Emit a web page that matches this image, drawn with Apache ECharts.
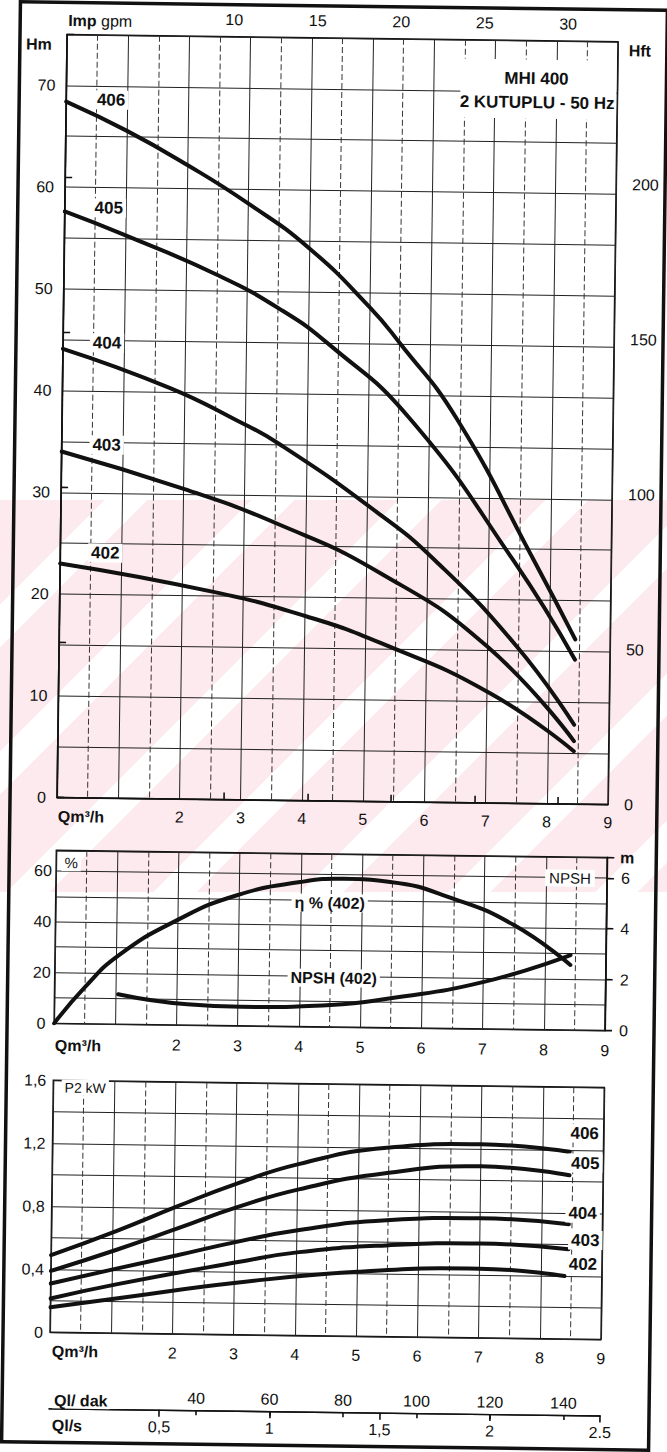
<!DOCTYPE html>
<html>
<head>
<meta charset="utf-8">
<script src="https://cdn.jsdelivr.net/npm/echarts@6/dist/echarts.min.js"></script>
<style>
html,body{margin:0;padding:0;background:#fff;overflow:hidden;width:667px;height:1452px;}
#wm{position:absolute;left:0;top:500px;width:667px;height:392px;
  background:repeating-linear-gradient(135deg,#fdeaee 0px,#fdeaee 74px,#ffffff 74px,#ffffff 104px);}
#wrap{position:absolute;left:0;top:0;width:667px;height:1452px;transform:rotate(0.75deg);transform-origin:333.5px 726px;}
#chart{width:667px;height:1452px;}
</style>
</head>
<body>
<div id="wm"></div>
<div id="wrap"><div id="chart"></div></div>
<script>
// ---------- DATA ----------
// Head curves H (m) vs Q (m3/h)
const head406Q = [0, 1.0, 2.0, 3.0, 4.0, 5.0, 5.5, 6.44, 7.73, 8.43];
const head406H = [68.4, 65.6, 62.3, 58.6, 54.3, 48.6, 45.1, 37.8, 24.0, 16.2];
const head405Q = [0, 1.01, 2.49, 3.53, 4.36, 5.68, 7.4, 8.43];
const head405H = [57.6, 55.3, 51.6, 48.3, 44.8, 37.7, 23.9, 14.2];
const head404Q = [0, 1.75, 2.85, 3.56, 5.15, 6.12, 7.48, 8.43];
const head404H = [44.1, 40.4, 37.3, 35.0, 28.5, 23.8, 15.4, 7.8];
const head403Q = [0, 1.99, 3.53, 5.22, 6.99, 8.43];
const head403H = [34.0, 30.5, 27.2, 22.5, 15.4, 6.2];
const head402Q = [0, 2.51, 4.04, 5.25, 7.05, 8.43];
const head402H = [23.0, 20.4, 18.1, 15.6, 10.8, 5.2];

// Efficiency (%) and NPSH (m) of 402
const effQ = [0, 0.5, 1.04, 1.98, 2.96, 3.99, 4.7, 5.46, 6.49, 7.49, 8.42];
const effV = [0, 14.5, 27.1, 41.1, 51.3, 56.8, 58.3, 57.3, 51.1, 41.0, 25.6];
const npshQ = [1.04, 2.17, 3.05, 4.51, 5.49, 7.01, 8.42];
const npshV = [1.18, 0.82, 0.75, 0.86, 1.16, 1.85, 2.95];

// Power P2 (kW)
const pow406Q = [0, 1.07, 2.05, 3.02, 4.04, 5.46, 7.0, 8.45];
const pow406P = [0.49, 0.65, 0.81, 0.96, 1.09, 1.20, 1.23, 1.19];
const pow405Q = [0, 1.07, 2.06, 3.03, 4.05, 5.47, 7.0, 8.45];
const pow405P = [0.39, 0.53, 0.67, 0.81, 0.93, 1.04, 1.09, 1.04];
const pow404Q = [0, 1.07, 2.06, 3.03, 4.05, 5.47, 7.0, 8.45];
const pow404P = [0.31, 0.41, 0.50, 0.59, 0.67, 0.74, 0.76, 0.73];
const pow403Q = [0, 1.07, 3.03, 4.05, 5.47, 7.0, 8.45];
const pow403P = [0.215, 0.31, 0.46, 0.53, 0.58, 0.60, 0.57];
const pow402Q = [0, 1.07, 3.03, 5.01, 7.0, 8.39];
const pow402P = [0.16, 0.22, 0.33, 0.41, 0.44, 0.40];

// Tick labels
const qLabels = [2, 3, 4, 5, 6, 7, 8, 9];
const headLabels = [0, 10, 20, 30, 40, 50, 60, 70];
const hftLabels = [0, 50, 100, 150, 200];
const gpmLabels = [10, 15, 20, 25, 30];
const effLabels = [0, 20, 40, 60];
const npshLabels = [0, 2, 4, 6];
const powerTickValues = [0, 0.4, 0.8, 1.2, 1.6];
const powerTickLabels = ['0', '0,4', '0,8', '1,2', '1,6'];
const lpmLabels = [40, 60, 80, 100, 120, 140];
const lpsTickValues = [0.5, 1, 1.5, 2, 2.5];
const lpsTickLabels = ['0,5', '1', '1,5', '2', '2.5'];

// Unit conversions (scale ends)
const Q_MAX = 9;
const H_MAX = 75;
const FT_PER_M = 3.28084;
const GPM_PER_M3H = 3.6662;
const LPM_PER_M3H = 16.6667;
const LPS_PER_M3H = 1 / 3.6;

// ---------- CHART ----------
const FONT = "'Liberation Sans', Arial, Helvetica, sans-serif";
const INK = '#111';
const near = (arr, v) => arr.some(t => Math.abs(t - v) < 1e-6);
const pairs = (q, v) => q.map((x, i) => [x, v[i]]);
const lbl = (extra) => Object.assign({ color: INK, fontFamily: FONT, fontSize: 16 }, extra);
const AX = { show: true, lineStyle: { color: INK, width: 1.5 } };
const TK = { color: INK, width: 1.6 };

const qAxis = (grid, margin) => ({
  gridIndex: grid, type: 'value', position: 'bottom', min: 0, max: Q_MAX, interval: 1,
  axisLine: { show: false }, axisTick: { show: false },
  axisLabel: lbl({ margin: margin, formatter: v => near(qLabels, v) ? String(v) : '' }),
  splitLine: { show: true, lineStyle: { color: '#222', width: 1 } },
  minorTick: { show: false, splitNumber: 2 },
  minorSplitLine: { show: true, lineStyle: { color: '#333', width: 1, type: [6, 3] } }
});

const curve = (name, q, v, xi, yi, w) => ({
  name: name, type: 'line', xAxisIndex: xi, yAxisIndex: yi,
  data: pairs(q, v), smooth: 0.5, symbol: 'none', silent: true, z: 3,
  lineStyle: { color: INK, width: w || 4, cap: 'round' }
});

const txt = (text, x, y, o) => ({
  type: 'text', x: x, y: y, z: 20,
  style: Object.assign({
    text: text, fill: INK, fontFamily: FONT, fontSize: 16, fontWeight: 'bold',
    align: 'center', verticalAlign: 'middle'
  }, o || {})
});
const WB = { backgroundColor: '#fff', padding: [1, 3] };

const chart = echarts.init(document.getElementById('chart'), null, { renderer: 'svg', width: 667, height: 1452 });

const option = {
  animation: false,
  backgroundColor: 'transparent',
  grid: [
    { left: 58, top: 38, width: 551, height: 763, show: true, borderColor: INK, borderWidth: 1.5, backgroundColor: 'transparent' },
    { left: 58, top: 854, width: 551, height: 173, show: true, borderColor: INK, borderWidth: 1.5, backgroundColor: 'transparent' },
    { left: 58, top: 1084, width: 551, height: 252, show: true, borderColor: INK, borderWidth: 1.5, backgroundColor: 'transparent' },
    { left: 58, top: 1411, width: 551, height: 1, show: false }
  ],
  xAxis: [
    qAxis(0, 10),
    { gridIndex: 0, type: 'value', position: 'top', min: 0, max: Q_MAX * GPM_PER_M3H, interval: 5,
      axisLine: AX,
      axisTick: { show: true, length: 7, customValues: gpmLabels, lineStyle: TK },
      axisLabel: lbl({ margin: 9, customValues: gpmLabels, formatter: v => near(gpmLabels, v) ? String(v) : '' }),
      splitLine: { show: false } },
    qAxis(1, 12),
    qAxis(2, 11),
    { gridIndex: 3, type: 'value', position: 'top', min: 0, max: Q_MAX * LPM_PER_M3H, interval: 20,
      axisLine: { show: true, lineStyle: { color: INK, width: 1.4 } },
      axisTick: { show: true, inside: true, length: 5, customValues: lpmLabels, lineStyle: TK },
      axisLabel: lbl({ margin: 3, customValues: lpmLabels, formatter: v => near(lpmLabels, v) ? String(v) : '' }),
      splitLine: { show: false } },
    { gridIndex: 3, type: 'value', position: 'bottom', min: 0, max: Q_MAX * LPS_PER_M3H, interval: 0.5,
      axisLine: { show: true, lineStyle: { color: INK, width: 1.4 } },
      axisTick: { show: true, length: 7, customValues: lpsTickValues, lineStyle: TK },
      axisLabel: lbl({ margin: 9, customValues: lpsTickValues, formatter: v => { const i = lpsTickValues.findIndex(t => Math.abs(t - v) < 1e-6); return i >= 0 ? lpsTickLabels[i] : ''; } }),
      splitLine: { show: false } }
  ],
  yAxis: [
    { gridIndex: 0, type: 'value', min: 0, max: H_MAX, interval: 5,
      axisLine: { show: false }, axisTick: { show: false },
      axisLabel: lbl({ margin: 11, formatter: v => near(headLabels, v) ? String(v) : '' }),
      splitLine: { show: true, lineStyle: { color: '#222', width: 1 } } },
    { gridIndex: 0, type: 'value', position: 'right', min: 0, max: H_MAX * FT_PER_M, interval: 50,
      axisLine: AX,
      axisTick: { show: true, length: 7, lineStyle: TK },
      axisLabel: lbl({ margin: 16, formatter: v => near(hftLabels, v) ? String(v) : '' }),
      splitLine: { show: false } },
    { gridIndex: 1, type: 'value', min: 0, max: 68, interval: 10,
      axisLine: { show: false }, axisTick: { show: false },
      axisLabel: lbl({ margin: 13, align: 'center', formatter: v => near(effLabels, v) ? String(v) : '' }),
      splitLine: { show: true, lineStyle: { color: '#222', width: 1 } } },
    { gridIndex: 1, type: 'value', position: 'right', min: 0, max: 6.8, interval: 2,
      axisLine: AX,
      axisTick: { show: true, length: 7, lineStyle: TK },
      axisLabel: lbl({ margin: 14, formatter: v => near(npshLabels, v) ? String(v) : '' }),
      splitLine: { show: false } },
    { gridIndex: 2, type: 'value', min: 0, max: 1.6, interval: 0.2,
      axisLine: { show: false }, axisTick: { show: false },
      axisLabel: lbl({ margin: 7, formatter: v => { const i = powerTickValues.findIndex(t => Math.abs(t - v) < 1e-6); return i >= 0 ? powerTickLabels[i] : ''; } }),
      splitLine: { show: true, lineStyle: { color: '#222', width: 1 } } },
    { gridIndex: 3, type: 'value', show: false, min: 0, max: 1 }
  ],
  series: [
    curve('406', head406Q, head406H, 0, 0),
    curve('405', head405Q, head405H, 0, 0),
    curve('404', head404Q, head404H, 0, 0),
    curve('403', head403Q, head403H, 0, 0),
    curve('402', head402Q, head402H, 0, 0),
    curve('η % (402)', effQ, effV, 2, 2),
    curve('NPSH (402)', npshQ, npshV, 2, 3),
    curve('P406', pow406Q, pow406P, 3, 4),
    curve('P405', pow405Q, pow405P, 3, 4),
    curve('P404', pow404Q, pow404P, 3, 4),
    curve('P403', pow403Q, pow403P, 3, 4),
    curve('P402', pow402Q, pow402P, 3, 4)
  ],
  graphic: [
    { type: 'rect', z: 30, shape: { x: 11, y: 6, width: 647, height: 1440 }, style: { fill: 'none', stroke: INK, lineWidth: 3.5 } },
    // top panel annotations
    { type: 'rect', z: 15, shape: { x: 452, y: 57, width: 156, height: 59 }, style: { fill: '#fff' } },
    txt('MHI 400', 528, 76, { fontSize: 17 }),
    txt('2 KUTUPLU - 50 Hz', 529, 100, { fontSize: 17 }),
    txt('Hm', 30, 48, { fontSize: 16 }),
    txt('Hft', 631, 47, { fontSize: 16 }),
    txt('{b|Imp} gpm', 59, 24, { align: 'left', fontWeight: 'normal', fontSize: 16, rich: { b: { fontWeight: 'bold', fontSize: 16, fontFamily: FONT } } }),
    txt('406', 103, 103, Object.assign({ fontSize: 17 }, WB)),
    txt('405', 102, 211, Object.assign({ fontSize: 17 }, WB)),
    txt('404', 102, 346, Object.assign({ fontSize: 17 }, WB)),
    txt('403', 103, 448, Object.assign({ fontSize: 17 }, WB)),
    txt('402', 103, 556, Object.assign({ fontSize: 17 }, WB)),
    txt('Qm³/h', 59, 820, { align: 'left', fontSize: 16 }),
    // middle panel
    txt('%', 73, 866, Object.assign({ fontSize: 15, fontWeight: 'normal' }, WB)),
    txt('m', 629, 854, { fontSize: 16 }),
    txt('NPSH', 572, 875, { fontSize: 15, fontWeight: 'normal', backgroundColor: '#fff', padding: [1, 4] }),
    txt('η % (402)', 332, 903, Object.assign({ fontSize: 16 }, WB)),
    txt('NPSH (402)', 337, 978, Object.assign({ fontSize: 16 }, WB)),
    txt('Qm³/h', 59, 1049, { align: 'left', fontSize: 16 }),
    // bottom panel
    txt('P2 kW', 90, 1091, Object.assign({ fontSize: 14, fontWeight: 'normal' }, WB)),
    txt('406', 590, 1130, Object.assign({ fontSize: 17 }, WB)),
    txt('405', 591, 1160, Object.assign({ fontSize: 17 }, WB)),
    txt('404', 589, 1210, Object.assign({ fontSize: 17 }, WB)),
    txt('403', 592, 1237, Object.assign({ fontSize: 17 }, WB)),
    txt('402', 590, 1261, Object.assign({ fontSize: 17 }, WB)),
    txt('Qm³/h', 60, 1355, { align: 'left', fontSize: 16 }),
    txt('Ql/ dak', 61, 1404, { align: 'left', fontSize: 16, backgroundColor: '#fff', padding: [0, 2] }),
    txt('Ql/s', 61, 1429, { align: 'left', fontSize: 16 })
  ]
};
chart.setOption(option);
</script>
</body>
</html>
